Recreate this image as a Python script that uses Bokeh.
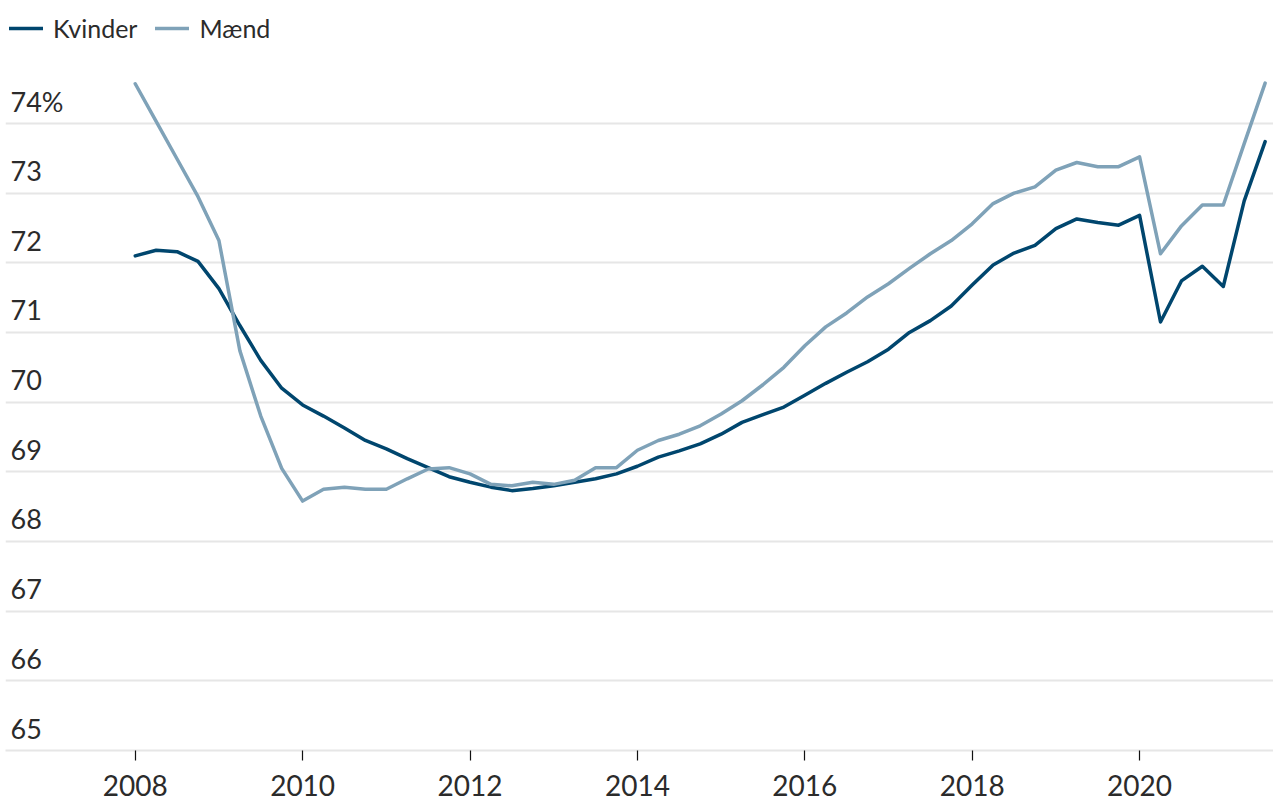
from bokeh.plotting import figure
from bokeh.models import FixedTicker, ColumnDataSource, Range1d, Legend, LegendItem
from bokeh.core.properties import value
from bokeh.embed import file_html
from bokeh.resources import INLINE

# Quarterly employment rate (%), 2008K1 .. 2021K3
start_year = 2008
kvinder = [72.10, 72.18, 72.16, 72.02, 71.63, 71.10, 70.60, 70.20, 69.96, 69.80,
           69.63, 69.45, 69.33, 69.19, 69.06, 68.93, 68.85, 68.78, 68.73, 68.76,
           68.80, 68.85, 68.90, 68.97, 69.08, 69.21, 69.30, 69.40, 69.54, 69.71,
           69.82, 69.93, 70.10, 70.27, 70.43, 70.58, 70.76, 71.00, 71.17, 71.38,
           71.68, 71.97, 72.14, 72.25, 72.49, 72.63, 72.58, 72.54, 72.68, 71.15,
           71.74, 71.95, 71.66, 72.89, 73.74]
maend = [74.57, 74.03, 73.49, 72.95, 72.32, 70.74, 69.80, 69.05, 68.58, 68.75,
         68.78, 68.75, 68.75, 68.90, 69.04, 69.06, 68.97, 68.82, 68.80, 68.85,
         68.82, 68.88, 69.06, 69.06, 69.31, 69.45, 69.54, 69.66, 69.83, 70.02,
         70.25, 70.50, 70.81, 71.08, 71.28, 71.51, 71.70, 71.92, 72.13, 72.32,
         72.56, 72.85, 73.00, 73.09, 73.33, 73.44, 73.38, 73.38, 73.52, 72.13,
         72.53, 72.83, 72.83, 73.71, 74.58]
quarters = [start_year + i / 4 for i in range(len(kvinder))]

x_ticks = [2008, 2010, 2012, 2014, 2016, 2018, 2020]
y_ticks = [65, 66, 67, 68, 69, 70, 71, 72, 73, 74]
y_labels = ["65", "66", "67", "68", "69", "70", "71", "72", "73", "74%"]

series_names = ["Kvinder", "Mænd"]
colors = ["#00466e", "#7fa2b8"]

FONT = "Lato"
TEXT_COLOR = "#2b2b2b"

x0, x1 = 2006.450, 2021.600
p = figure(width=1273, height=801, output_backend="svg", toolbar_location=None,
           x_range=Range1d(x0, x1), y_range=Range1d(65, 75.636),
           min_border_left=5, min_border_right=0, min_border_top=9,
           min_border_bottom=51)
p.outline_line_color = None
p.background_fill_color = "white"
p.border_fill_color = "white"

p.yaxis.visible = False
p.xgrid.visible = False
p.ygrid.ticker = FixedTicker(ticks=y_ticks)
p.ygrid.grid_line_color = "#e6e6e6"
p.ygrid.grid_line_width = 2

xa = p.xaxis[0]
xa.ticker = FixedTicker(ticks=x_ticks)
xa.axis_line_color = "#e6e6e6"
xa.axis_line_width = 2
xa.major_tick_out = 10
xa.major_tick_in = 0
xa.major_tick_line_color = "#111111"
xa.major_tick_line_width = 1.2
xa.minor_tick_line_color = None
xa.major_label_standoff = 14
xa.major_label_text_font = FONT
xa.major_label_text_font_size = "28px"
xa.major_label_text_color = TEXT_COLOR

r1 = p.line(quarters, kvinder, line_color=colors[0], line_width=3.5,
            line_join="round", line_cap="round")
r2 = p.line(quarters, maend, line_color=colors[1], line_width=3.5,
            line_join="round", line_cap="round")

lab_src = ColumnDataSource(dict(x=[x0] * len(y_ticks), y=y_ticks, text=y_labels))
p.text("x", "y", text="text", source=lab_src, x_offset=5, y_offset=-22,
       text_baseline="alphabetic", text_align="left",
       text_font=value(FONT), text_font_size="27px", text_color=TEXT_COLOR)

legend = Legend(items=[LegendItem(label=series_names[0], renderers=[r1]),
                       LegendItem(label=series_names[1], renderers=[r2])],
                location="top_left", orientation="horizontal",
                margin=4, padding=0, spacing=18,
                glyph_width=34, glyph_height=30, label_height=30,
                label_standoff=10,
                label_text_font=FONT, label_text_font_size="25px",
                label_text_color=TEXT_COLOR,
                background_fill_alpha=0, border_line_color=None)
p.add_layout(legend)

open("out.html", "w").write(file_html(p, INLINE))
